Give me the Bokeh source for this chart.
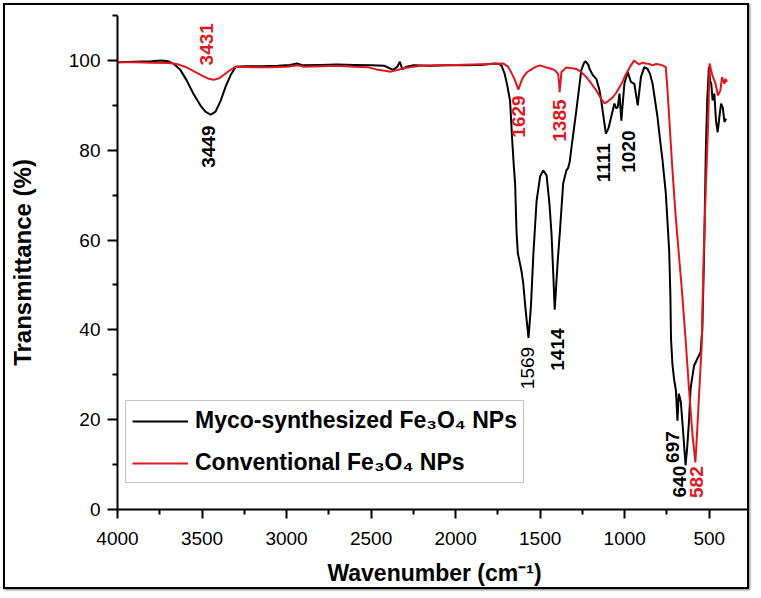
import numpy as np
from bokeh.plotting import figure
from bokeh.models import Range1d, FixedTicker, Legend, LegendItem
from bokeh.core.properties import value
from bokeh.embed import file_html
from bokeh.resources import INLINE

# ---- data ----
wn_myco = [4000, 3900, 3800, 3740, 3700, 3670, 3630, 3590, 3550, 3510, 3480, 3449, 3420, 3390,
           3360, 3330, 3300, 3250, 3150, 3050, 2980, 2940, 2900, 2800, 2700, 2600, 2500, 2420,
           2370, 2345, 2330, 2315, 2290, 2250, 2150, 2050, 1950, 1850, 1770, 1740, 1727, 1710,
           1695, 1678, 1665, 1655, 1648, 1640, 1632, 1625, 1610, 1600, 1585, 1569, 1555, 1540,
           1521, 1500, 1482, 1462, 1445, 1433, 1422, 1414, 1405, 1395, 1384, 1364, 1345, 1335,
           1325, 1310, 1286, 1257, 1240, 1231, 1215, 1208, 1188, 1168, 1150, 1139, 1120, 1111,
           1095, 1080, 1061, 1050, 1041, 1031, 1020, 1002, 982, 963, 943, 923, 904, 884, 865,
           850, 835, 806, 790, 777, 757, 737, 730, 726, 718, 708, 697, 688, 680, 668, 655, 640,
           630, 620, 610, 590, 571, 551, 541, 530, 520, 512, 502, 495, 488, 480, 470, 460, 450,
           440, 430, 420, 410, 400]
t_myco = [99.6, 99.7, 99.8, 100.0, 99.8, 99.3, 98.0, 95.5, 92.5, 90.0, 88.6, 87.9, 88.6, 91.0,
          94.2, 96.8, 98.6, 98.7, 98.7, 98.8, 99.0, 99.3, 98.9, 99.0, 99.1, 99.0, 98.9, 98.8,
          97.9, 98.6, 99.7, 98.0, 98.6, 98.9, 98.8, 98.9, 98.9, 99.0, 99.3, 99.2, 98.7, 97.0,
          94.5, 91.0, 82.0, 76.0, 72.5, 62.0, 57.0, 55.8, 53.0, 50.3, 44.0, 38.2, 45.0, 57.0,
          68.8, 74.2, 75.5, 74.4, 68.0, 61.5, 52.0, 44.5, 50.0, 56.0, 61.5, 72.6, 75.5, 76.0,
          77.5, 82.0, 88.9, 97.8, 99.5, 99.8, 99.0, 98.1, 96.7, 95.9, 93.5, 91.1, 86.0, 83.7,
          85.0, 87.4, 90.4, 89.3, 89.6, 92.6, 86.6, 94.8, 97.4, 95.2, 94.8, 90.0, 96.3, 98.5, 98.1,
          97.0, 94.8, 87.4, 82.0, 78.0, 70.5, 57.7, 48.0, 38.0, 32.5, 29.0, 26.5, 19.8, 25.8, 24.0,
          17.6, 9.8, 14.0, 19.5, 27.0, 32.0, 33.5, 35.0, 40.0, 57.7, 80.0, 91.0, 98.5, 95.5, 94.8,
          91.1, 92.6, 86.6, 84.0, 87.4, 90.4, 89.5, 86.3, 87.0]

wn_conv = [4000, 3900, 3800, 3700, 3650, 3600, 3550, 3500, 3460, 3431, 3400, 3370, 3340, 3300,
           3200, 3100, 3000, 2930, 2900, 2800, 2700, 2600, 2520, 2470, 2420, 2383, 2340, 2300,
           2250, 2207, 2100, 2000, 1900, 1800, 1717, 1690, 1678, 1660, 1648, 1629, 1610, 1600,
           1580, 1560, 1530, 1501, 1462, 1430, 1413, 1394, 1388, 1385, 1380, 1374, 1345, 1320,
           1286, 1260, 1227, 1200, 1168, 1140, 1119, 1095, 1070, 1050, 1031, 1010, 992, 963, 943,
           930, 914, 895, 875, 855, 835, 815, 796, 775, 757, 748, 737, 720, 700, 680, 660, 640,
           620, 600, 582, 572, 561, 545, 532, 520, 512, 505, 498, 484, 463, 448, 434, 424, 410,
           404, 395]
t_conv = [99.6, 99.6, 99.5, 99.4, 99.2, 98.6, 97.6, 96.6, 95.9, 95.7, 96.0, 96.8, 97.7, 98.6,
          98.5, 98.5, 98.6, 98.9, 98.6, 98.7, 98.8, 98.6, 98.5, 98.0, 97.7, 97.5, 97.9, 98.3,
          98.6, 98.8, 98.9, 99.0, 99.1, 99.2, 99.3, 98.6, 97.8, 96.5, 95.5, 93.5, 95.5, 96.3,
          97.3, 97.8, 98.5, 98.9, 98.4, 98.1, 97.8, 97.0, 95.0, 92.9, 95.0, 97.4, 98.4, 98.3,
          98.1, 97.5, 96.3, 95.0, 93.3, 91.5, 90.4, 91.0, 91.8, 92.8, 94.0, 95.5, 97.0, 98.9, 100.0,
          99.5, 99.1, 99.5, 99.3, 99.2, 98.9, 99.2, 99.1, 98.9, 98.5, 94.0, 87.4, 77.0, 66.0, 57.0,
          48.0, 38.0, 27.0, 17.0, 10.5, 17.0, 25.0, 36.1, 57.7, 72.0, 80.0, 88.0, 99.3, 97.0, 94.8,
          92.2, 93.3, 96.3, 94.8, 95.9, 95.2]

x_ticks = [4000, 3500, 3000, 2500, 2000, 1500, 1000, 500]
x_minor = [3750, 3250, 2750, 2250, 1750, 1250, 750, 250]
y_ticks = [0, 20, 40, 60, 80, 100]
y_minor = [10, 30, 50, 70, 90, 110]

# peak annotations
lab_black_bold = ["3449", "1414", "1111", "1020", "697", "640"]
lab_black_bold_x = [3459, 1396, 1125, 978, 720, 673]
lab_black_bold_y = [80.8, 35.6, 77.2, 79.7, 13.9, 6.2]
lab_black_reg = ["1569"]
lab_black_reg_x = [1575]
lab_black_reg_y = [31.5]
lab_red = ["3431", "1629", "1385", "582"]
lab_red_x = [3471, 1631, 1384, 573]
lab_red_y = [103.6, 87.5, 86.6, 6.1]

series_names = ["Myco-synthesized Fe\u2083O\u2084 NPs", "Conventional Fe\u2083O\u2084 NPs"]

BLACK = "#000000"
RED = "#e3161c"
FONT = "Liberation Sans"

p = figure(width=746, height=586, x_range=Range1d(4000, 250), y_range=Range1d(0, 110),
           output_backend="svg", toolbar_location=None,
           min_border_left=109, min_border_right=0, min_border_top=10, min_border_bottom=82)
p.styles = {"margin": "3px 0 0 3px", "border": "2px solid black",
            "box-shadow": "1px 1px 2px #777"}
p.outline_line_color = None
p.xgrid.visible = False
p.ygrid.visible = False
p.background_fill_color = "white"
p.border_fill_color = "white"

r1 = p.line(wn_myco, t_myco, line_color=BLACK, line_width=2)
r2 = p.line(wn_conv, t_conv, line_color=RED, line_width=2)

ang = np.pi / 2
p.text(x=lab_black_bold_x, y=lab_black_bold_y, text=lab_black_bold, angle=ang,
       text_align="center", text_baseline="middle", text_font=value(FONT),
       text_font_style="bold", text_font_size="19px", text_color=BLACK)
p.text(x=lab_black_reg_x, y=lab_black_reg_y, text=lab_black_reg, angle=ang,
       text_align="center", text_baseline="middle", text_font=value(FONT),
       text_font_size="19px", text_color=BLACK)
p.text(x=lab_red_x, y=lab_red_y, text=lab_red, angle=ang,
       text_align="center", text_baseline="middle", text_font=value(FONT),
       text_font_style="bold", text_font_size="19px", text_color=RED)

for ax in (p.xaxis[0], p.yaxis[0]):
    ax.axis_line_width = 2
    ax.axis_line_color = BLACK
    ax.major_tick_line_width = 2
    ax.minor_tick_line_width = 2
    ax.major_tick_in = 0
    ax.minor_tick_in = 0
    ax.major_label_text_font = FONT
    ax.major_label_text_font_size = "19px"
    ax.major_label_text_color = BLACK
    ax.axis_label_text_font = FONT
    ax.axis_label_text_font_style = "bold"
    ax.axis_label_text_color = BLACK

p.xaxis.axis_label_text_font_size = "23px"
p.yaxis.axis_label_text_font_size = "24px"
p.xaxis.ticker = FixedTicker(ticks=x_ticks, minor_ticks=x_minor)
p.yaxis.ticker = FixedTicker(ticks=y_ticks, minor_ticks=y_minor)
p.xaxis.major_tick_out = 9
p.xaxis.minor_tick_out = 5
p.yaxis.major_tick_out = 10
p.yaxis.minor_tick_out = 5
p.xaxis.major_label_standoff = 13
p.yaxis.major_label_standoff = 7
p.xaxis.axis_label = "Wavenumber (cm\u207b\u00b9)"
p.yaxis.axis_label = "Transmittance (%)"
p.xaxis.axis_label_standoff = 12
p.yaxis.axis_label_standoff = 30

legend = Legend(items=[LegendItem(label=series_names[0], renderers=[r1]),
                       LegendItem(label=series_names[1], renderers=[r2])],
                location=(8, 26))
legend.label_text_font = FONT
legend.label_text_font_style = "bold"
legend.label_text_font_size = "23px"
legend.label_text_color = BLACK
legend.glyph_width = 56
legend.glyph_height = 24
legend.label_height = 24
legend.label_standoff = 7
legend.spacing = 15
legend.padding = 6
legend.margin = 0
legend.border_line_color = "#888888"
legend.border_line_width = 1
legend.background_fill_color = "white"
legend.background_fill_alpha = 1
p.add_layout(legend, "center")

open("out.html", "w").write(file_html(p, INLINE))
